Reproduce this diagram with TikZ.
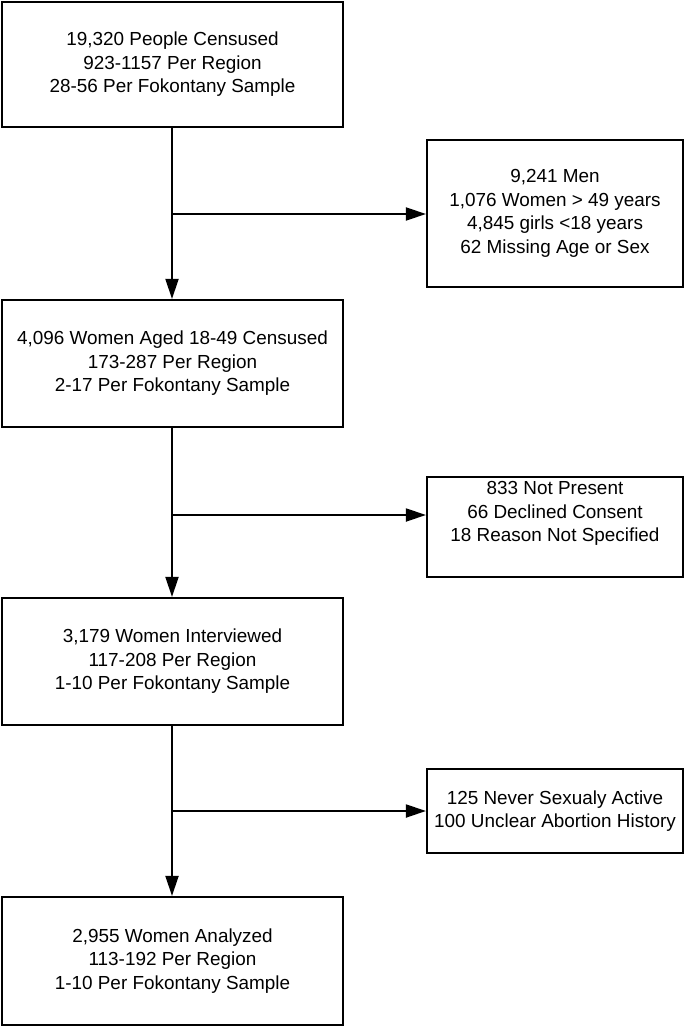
\documentclass[tikz,border=0pt]{standalone}
\usepackage{fontspec}
\setmainfont{Liberation Sans}
\usetikzlibrary{arrows.meta}
\begin{document}
\begin{tikzpicture}[x=1pt,y=-1pt,
  txt/.style={font=\fontsize{18.9}{23.5}\selectfont,align=center},
  mainbox/.style={txt,draw,line width=2.2pt,minimum width=341pt,inner sep=0pt},
  sidebox/.style={txt,draw,line width=2.2pt,minimum width=256pt,inner sep=0pt},
  flow/.style={line width=2pt,-{Triangle[length=20pt,width=13pt]}}]
\useasboundingbox (0,0) rectangle (685,1027);
\node[mainbox,minimum height=125pt] (m1) at (172.5,64.5) {19,320 People Censused\\923-1157 Per Region\\28-56 Per Fokontany Sample};
\node[mainbox,minimum height=127pt] (m2) at (172.5,363.5) {4,096 Women Aged 18-49 Censused\\173-287 Per Region\\2-17 Per Fokontany Sample};
\node[mainbox,minimum height=127pt] (m3) at (172.5,661.5) {3,179 Women Interviewed\\117-208 Per Region\\1-10 Per Fokontany Sample};
\node[mainbox,minimum height=128pt] (m4) at (172.5,961) {2,955 Women Analyzed\\113-192 Per Region\\1-10 Per Fokontany Sample};
\node[sidebox,minimum height=147pt] (s1) at (555,213.5) {9,241 Men\\1,076 Women > 49 years\\4,845 girls <18 years\\62 Missing Age or Sex};
\node[sidebox,minimum height=100pt] (s2) at (555,527) {};
\node[txt,anchor=north] (s2t) at (555,478) {833 Not Present\\66 Declined Consent\\18 Reason Not Specified};
\node[sidebox,minimum height=84pt] (s3) at (555,811) {125 Never Sexualy Active\\100 Unclear Abortion History};
\coordinate (b1) at (172,214);
\coordinate (b2) at (172,515);
\coordinate (b3) at (172,811);
\draw[flow] (m1.south -| b1) -- (m2.north -| b1);
\draw[flow] (m2.south -| b1) -- (m3.north -| b1);
\draw[flow] (m3.south -| b1) -- (m4.north -| b1);
\draw[flow] (b1) -- (b1 -| s1.west);
\draw[flow] (b2) -- (b2 -| s2.west);
\draw[flow] (b3) -- (b3 -| s3.west);
\end{tikzpicture}
\end{document}
